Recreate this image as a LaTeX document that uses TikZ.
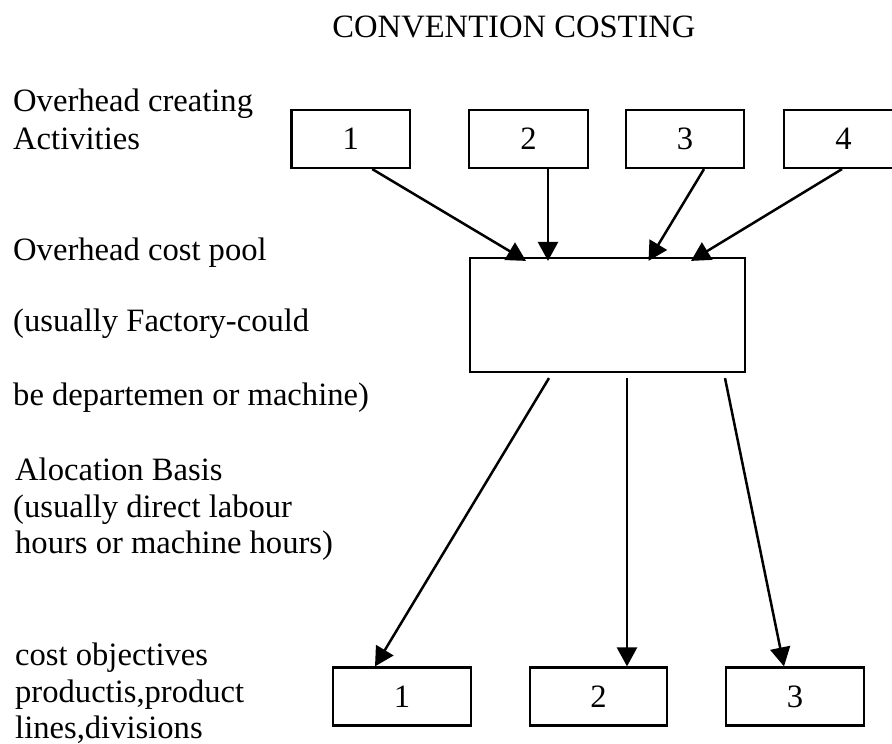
\documentclass[tikz,border=0pt]{standalone}
\usepackage{fontspec}
\setmainfont{Liberation Serif}
\usetikzlibrary{arrows.meta}
\begin{document}
\begin{tikzpicture}[x=1pt,y=-1pt,
  txt/.style={anchor=base west, inner sep=0pt, font=\fontsize{32.6}{37}\selectfont},
  numbox/.style={draw, line width=2.2pt, inner sep=0pt, minimum height=58pt,
                 font=\fontsize{32.6}{37}\selectfont},
  topbox/.style={numbox, minimum width=118.5pt},
  botbox/.style={numbox, minimum width=137.5pt},
  poolbox/.style={draw, line width=2.2pt, minimum width=275pt, minimum height=114pt},
  flow/.style={line width=2.5pt, -{Triangle[length=19pt,width=20pt]}}
]
\clip (0,0) rectangle (892,744);
\fill[white] (0,0) rectangle (892,744);

% heading
\node[anchor=base, inner sep=0pt, font=\fontsize{32.6}{37}\selectfont] (title) at (514,37.5) {CONVENTION COSTING};

% row captions on the left
\node[txt] (act1) at (13,111.5) {Overhead creating};
\node[txt] (act2) at (13,149) {Activities};
\node[txt] (pool1) at (13,260) {Overhead cost pool};
\node[txt] (pool2) at (13,331) {(usually Factory-could};
\node[txt] (pool3) at (13,405) {be departemen or machine)};
\node[txt] (basis1) at (15,480) {Alocation Basis};
\node[txt] (basis2) at (13,517) {(usually direct labour};
\node[txt] (basis3) at (15,553) {hours or machine hours)};
\node[txt] (obj1) at (15,665) {cost objectives};
\node[txt] (obj2) at (15,702) {productis,product};
\node[txt] (obj3) at (15,738) {lines,divisions};

% overhead creating activities
\node[topbox] (t1) at (350.75,139) {1};
\node[topbox] (t2) at (528.5,139) {2};
\node[topbox] (t3) at (685,139) {3};
\node[topbox] (t4) at (843.5,139) {4};

% overhead cost pool
\node[poolbox] (pool) at (607.5,315) {};

% cost objectives
\node[botbox] (b1) at (402,696.5) {1};
\node[botbox] (b2) at (598.5,696.5) {2};
\node[botbox] (b3) at (795,696.5) {3};

% activities feed the pool
\draw[flow] ([xshift=21.5pt]t1.south) -- ([xshift=-81.5pt,yshift=-4pt]pool.north);
\draw[flow] ([xshift=19.5pt]t2.south) -- ([xshift=-59.5pt,yshift=-4pt]pool.north);
\draw[flow] ([xshift=19pt]t3.south) -- ([xshift=41pt,yshift=-4pt]pool.north);
\draw[flow] ([xshift=-1.5pt]t4.south) -- ([xshift=83.5pt,yshift=-4pt]pool.north);

% pool allocated to cost objectives
\draw[flow] ([xshift=-58.5pt,yshift=-5pt]pool.south) -- ([xshift=-27pt]b1.north);
\draw[flow] ([xshift=19.5pt,yshift=-5pt]pool.south) -- ([xshift=28.5pt]b2.north);
\draw[flow] ([xshift=117.5pt,yshift=-5pt]pool.south) -- ([xshift=-11pt]b3.north);
\end{tikzpicture}
\end{document}
